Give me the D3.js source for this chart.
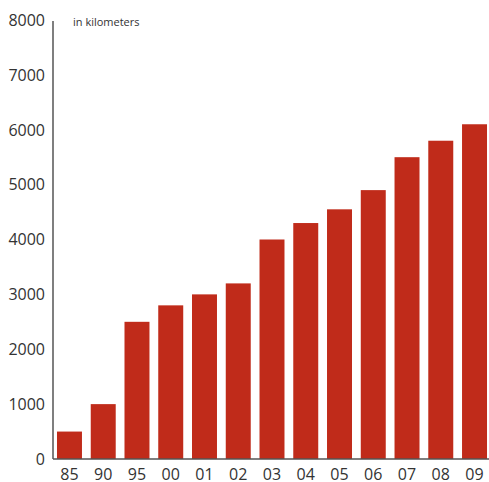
<!DOCTYPE html>
<html>
<head>
<meta charset="utf-8">
<script src="https://cdn.jsdelivr.net/npm/d3@7"></script>
<style>
    body { margin: 0; background: #fff; }
    svg { display: block; }
    text { font-family: 'Open Sans', sans-serif; fill: #333; }
</style>
</head>
<body>
<div id="root"></div>
<script>
const years = ['85', '90', '95', '00', '01', '02', '03', '04', '05', '06', '07', '08', '09'];
const km = [500, 1000, 2500, 2800, 3000, 3200, 4000, 4300, 4550, 4900, 5500, 5800, 6100];
const yTicks = [0, 1000, 2000, 3000, 4000, 5000, 6000, 7000, 8000];

const width = 489;
const height = 482;
const axisX = 53;
const baseY = 459;

const svg = d3.select('#root')
    .append('svg')
    .attr('width', width)
    .attr('height', height);

const x = d3.scaleBand()
    .domain(years)
    .range([52.6, 491.4])
    .paddingInner(0.26)
    .paddingOuter(0.13);

const y = d3.scaleLinear()
    .domain([0, 8000])
    .range([baseY, 20]);

svg.append('g')
    .selectAll('rect')
    .data(years)
    .join('rect')
    .attr('x', d => x(d))
    .attr('width', x.bandwidth())
    .attr('y', (d, i) => y(km[i]))
    .attr('height', (d, i) => baseY - y(km[i]))
    .attr('fill', '#c02b1a');

// baseline + y axis line
svg.append('line')
    .attr('x1', axisX).attr('x2', width)
    .attr('y1', baseY).attr('y2', baseY)
    .attr('stroke', '#555')
    .attr('stroke-width', 1.5);

svg.append('line')
    .attr('x1', axisX).attr('x2', axisX)
    .attr('y1', y(8000) + 1).attr('y2', baseY)
    .attr('stroke', '#555')
    .attr('stroke-width', 1.5);

svg.append('g')
    .selectAll('text')
    .data(yTicks)
    .join('text')
    .attr('x', 45)
    .attr('y', d => y(d))
    .attr('dy', '0.36em')
    .attr('text-anchor', 'end')
    .style('font-size', '16px')
    .text(d => d);

svg.append('g')
    .selectAll('text')
    .data(years)
    .join('text')
    .attr('x', d => x(d) + x.bandwidth() / 2)
    .attr('y', 480)
    .attr('text-anchor', 'middle')
    .style('font-size', '16px')
    .text(d => d);

svg.append('text')
    .attr('x', 73)
    .attr('y', 22)
    .attr('dy', '0.36em')
    .style('font-size', '11px')
    .text('in kilometers');
</script>
</body>
</html>
